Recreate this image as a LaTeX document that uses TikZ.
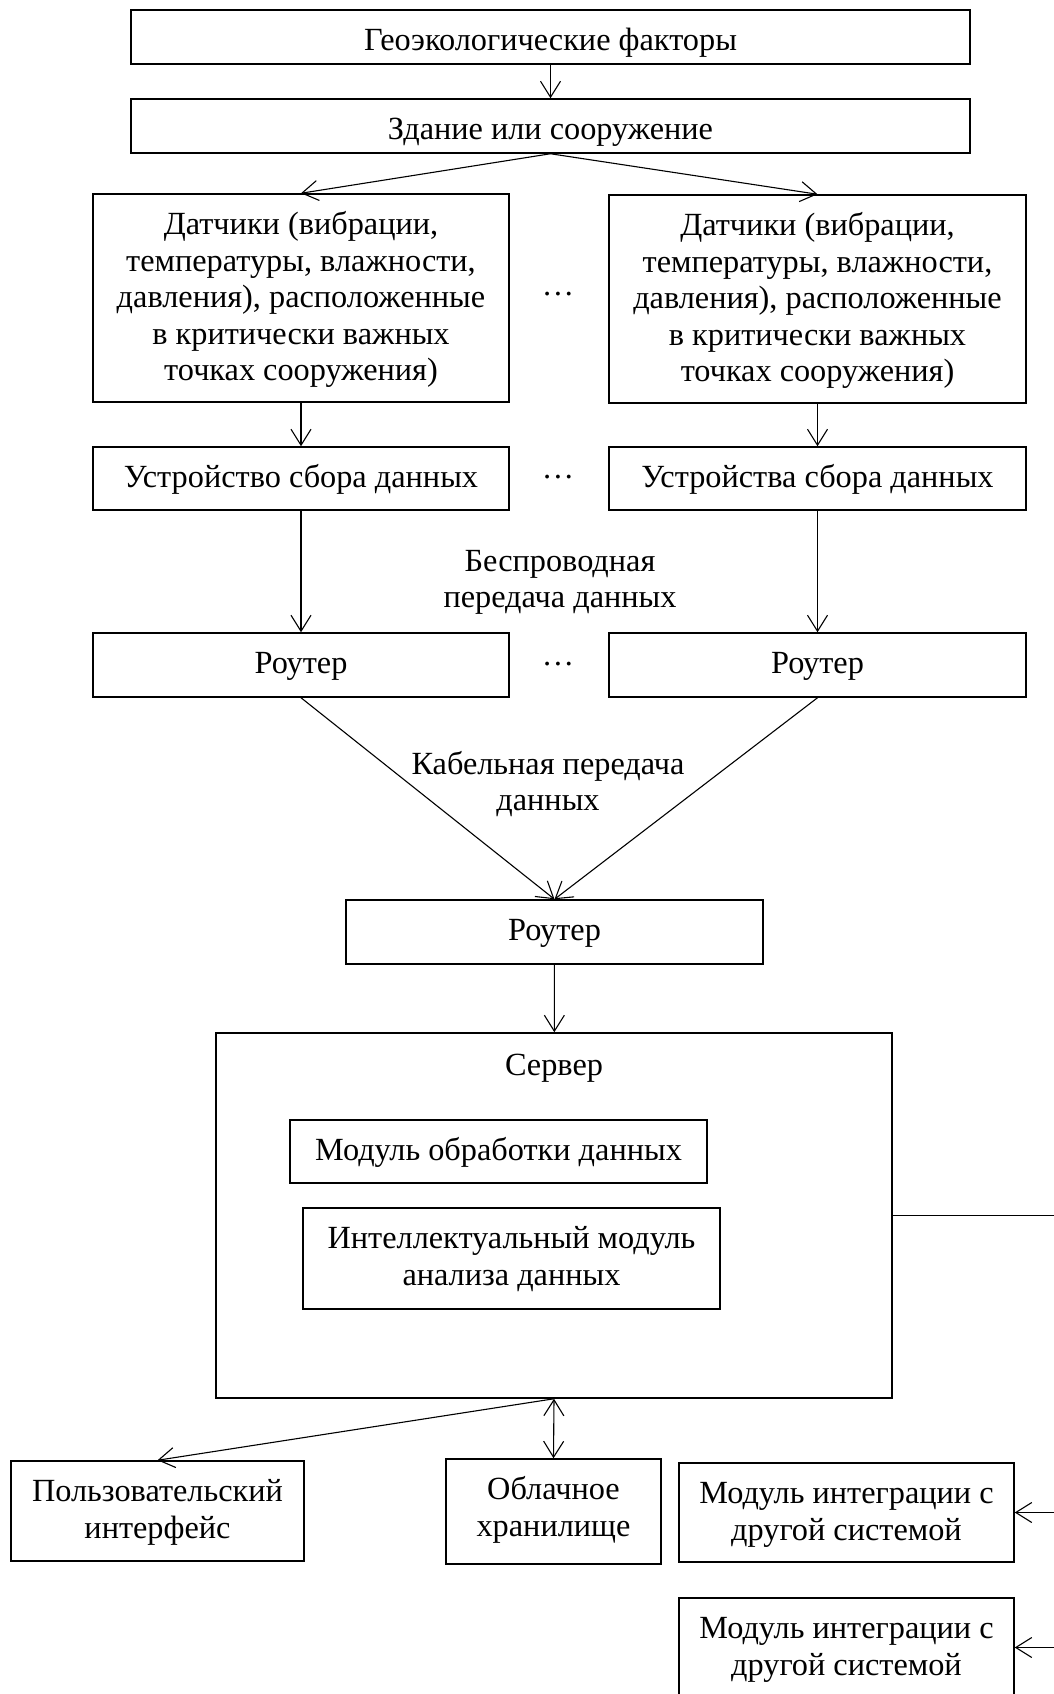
\documentclass[tikz,border=0pt]{standalone}
\usepackage{fontspec}
\setmainfont{Liberation Serif}
\usetikzlibrary{arrows.meta}
\newcommand{\firstln}{\rule{0pt}{30pt}}
\begin{document}
\begin{tikzpicture}[x=1pt,y=-1pt,
  box/.style={draw, line width=1.5pt, inner sep=0pt},
  lbl/.style={inner sep=0pt, align=center, font=\fontsize{32.3}{36.6}\selectfont},
  intext/.style={lbl, anchor=north, yshift=-11pt},
  conn/.style={line width=1.1pt},
  arr/.style={line width=1.1pt, -{Straight Barb[length=16pt,width=20pt,line width=1.1pt]}},
  darr/.style={line width=1.1pt, {Straight Barb[length=16pt,width=20pt,line width=1.1pt]}-{Straight Barb[length=16pt,width=20pt,line width=1.1pt]}},
]
\useasboundingbox (0,0) rectangle (1054,1694);

\node[box, minimum width=839pt, minimum height=54pt] (geo) at (550.5,37) {};
\node[intext] (geoT) at (geo.north) {\firstln Геоэкологические факторы};
\node[box, minimum width=839pt, minimum height=54pt] (bld) at (550.5,126) {};
\node[intext] (bldT) at (bld.north) {\firstln Здание или сооружение};

\node[box, minimum width=416pt, minimum height=208pt] (sensL) at (301,298) {};
\node[intext] (sensLT) at (sensL.north) {\firstln Датчики (вибрации,\\температуры, влажности,\\давления), расположенные\\в критически важных\\точках сооружения)};
\node[box, minimum width=417pt, minimum height=208pt] (sensR) at (817.5,299) {};
\node[intext] (sensRT) at (sensR.north) {\firstln Датчики (вибрации,\\температуры, влажности,\\давления), расположенные\\в критически важных\\точках сооружения)};
\node[lbl] (dots1) at (558,294) {…};

\node[box, minimum width=416pt, minimum height=63pt] (devL) at (301,478.5) {};
\node[intext] (devLT) at (devL.north) {\firstln Устройство сбора данных};
\node[box, minimum width=417pt, minimum height=63pt] (devR) at (817.5,478.5) {};
\node[intext] (devRT) at (devR.north) {\firstln Устройства сбора данных};
\node[lbl] (dots2) at (558,477) {…};

\node[lbl] (wl) at (560,582.5) {Беспроводная\\передача данных};

\node[box, minimum width=416pt, minimum height=64pt] (rtL) at (301,665) {};
\node[intext] (rtLT) at (rtL.north) {\firstln Роутер};
\node[box, minimum width=417pt, minimum height=64pt] (rtR) at (817.5,665) {};
\node[intext] (rtRT) at (rtR.north) {\firstln Роутер};
\node[lbl] (dots3) at (558,664) {…};

\node[lbl] (cab) at (548,784) {Кабельная передача\\данных};

\node[box, minimum width=417pt, minimum height=64pt] (rtC) at (554.5,932) {};
\node[intext] (rtCT) at (rtC.north) {\firstln Роутер};

\node[box, minimum width=676pt, minimum height=365pt] (srv) at (554,1215.5) {};
\node[lbl] (srvT) at (554,1068.5) {Сервер};
\node[box, minimum width=417pt, minimum height=63pt] (mod1) at (498.5,1151.5) {};
\node[intext] (mod1T) at (mod1.north) {\firstln Модуль обработки данных};
\node[box, minimum width=417pt, minimum height=101pt] (mod2) at (511.5,1258.5) {};
\node[intext] (mod2T) at (mod2.north) {\firstln Интеллектуальный модуль\\анализа данных};

\node[box, minimum width=293pt, minimum height=100pt] (ui) at (157.5,1511) {};
\node[intext] (uiT) at (ui.north) {\firstln Пользовательский\\интерфейс};
\node[box, minimum width=215pt, minimum height=105pt] (cloud) at (553.5,1511.5) {};
\node[intext] (cloudT) at (cloud.north) {\firstln Облачное\\хранилище};
\node[box, minimum width=335pt, minimum height=99pt] (int1) at (846.5,1512.5) {};
\node[intext] (int1T) at (int1.north) {\firstln Модуль интеграции с\\другой системой};
\node[box, minimum width=335pt, minimum height=99pt] (int2) at (846.5,1647.5) {};
\node[intext] (int2T) at (int2.north) {\firstln Модуль интеграции с\\другой системой};

\coordinate (rs) at (1060,1216);

\draw[arr] (geo) -- (bld);
\draw[arr] (bld.south) -- (sensL.north);
\draw[arr] (bld.south) -- (sensR.north);
\draw[arr] (sensL) -- (devL);
\draw[arr] (sensR) -- (devR);
\draw[arr] (devL) -- (rtL);
\draw[arr] (devR) -- (rtR);
\draw[arr] (rtL.south) -- (rtC.north);
\draw[arr] (rtR.south) -- (rtC.north);
\draw[arr] (rtC) -- (srv);
\draw[arr] (srv.south) -- (ui.north);
\draw[darr] (srv.south) -- (cloud.north);
\draw[conn] (srv.east) -- (srv.east -| rs);
\draw[arr] (int1.east -| rs) -- (int1.east);
\draw[arr] (int2.east -| rs) -- (int2.east);
\end{tikzpicture}
\end{document}
